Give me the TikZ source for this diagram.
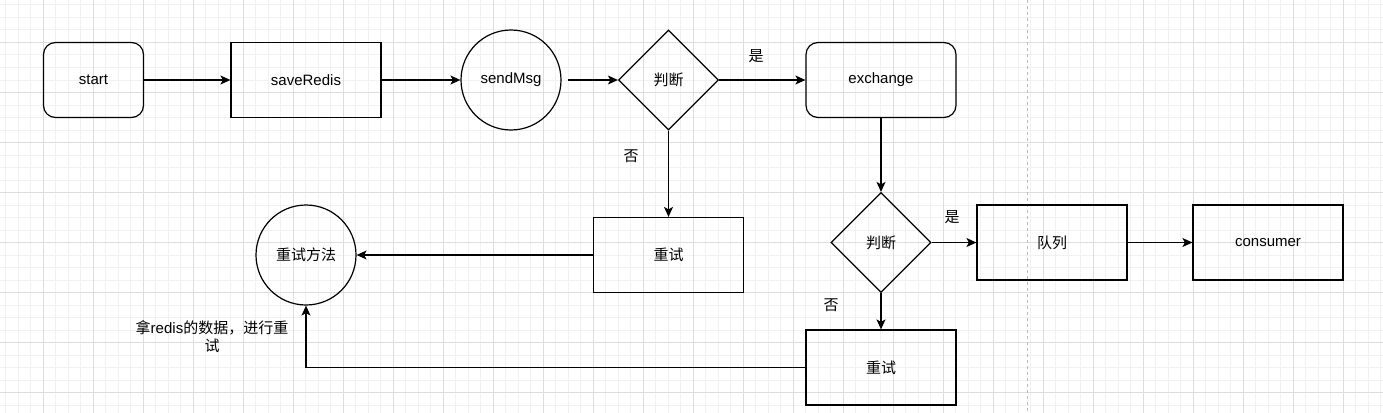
\documentclass[tikz,border=0pt]{standalone}
\usepackage{fontspec}
\setmainfont{Liberation Sans}
\newfontfamily\cjk{Noto Sans CJK SC}
\usetikzlibrary{shapes.geometric,arrows.meta}
\definecolor{gridmajor}{HTML}{DDDDDD}
\definecolor{gridminor}{HTML}{F1F1F1}
\definecolor{pageline}{HTML}{BBBBBB}
\tikzset{
  box/.style={draw, line width=1.2pt, minimum width=150pt, minimum height=75pt, inner sep=0pt},
  rbox/.style={box, rounded corners=12pt},
  circ/.style={draw, circle, line width=1.2pt, minimum size=100pt, inner sep=0pt},
  decision/.style={draw, diamond, aspect=1, line width=1.2pt, minimum width=100pt, minimum height=100pt, inner sep=0pt},
  arrow/.style={-{Stealth[length=10pt,width=9pt,inset=2.5pt]}, line width=1.2pt}
}
\begin{document}
\begin{tikzpicture}[x=1pt,y=-1pt,font=\fontsize{15pt}{18pt}\selectfont]
\useasboundingbox (0,0) rectangle (1383,412);
\fill[white] (0,0) rectangle (1383,412);
% background grid
\begin{scope}[shift={(43.3,42.5)}]
\draw[gridminor, line width=1pt, step=12.5pt] (-50,400) grid (1350,-50);
\draw[gridmajor, line width=1pt, step=50pt] (-50,400) grid (1350,-50);
\end{scope}
\draw[pageline, line width=1pt, dash pattern=on 3pt off 3pt] (1027.5,0) -- (1027.5,412);

% top row
\node[rbox, minimum width=100pt] (start) at (93.5,80) {start};
\node[box] (saveRedis) at (306,80) {saveRedis};
\node[circ] (sendMsg) at (511,80) {sendMsg};
\node[decision] (dec1) at (668.5,80) {\cjk 判断};
\node[rbox] (exchange) at (881,80) {exchange};

% retry side
\node[box] (retry1) at (668.5,255) {\cjk 重试};
\node[circ] (retryFn) at (306,255) {\cjk 重试方法};
\node[decision] (dec2) at (881,242.5) {\cjk 判断};
\node[box] (queue) at (1052,242.5) {\cjk 队列};
\node[box] (consumer) at (1268,242.5) {consumer};
\node[box] (retry2) at (881,367.5) {\cjk 重试};

% labels
\node (yes1) at (756,56) {\cjk 是};
\node (no1) at (631,156) {\cjk 否};
\node (yes2) at (952,217) {\cjk 是};
\node (no2) at (831,305) {\cjk 否};
\node[align=center] (note) at (212,337) {{\cjk 拿}redis{\cjk 的数据，进行重}\\{\cjk 试}};

\draw[arrow] (start) -- (saveRedis);
\draw[arrow] (saveRedis) -- (sendMsg);
\draw[arrow, shorten <=6pt] (sendMsg) -- (dec1);
\draw[arrow] (dec1) -- (exchange);
\draw[arrow] (dec1) -- (retry1);
\draw[arrow] (retry1) -- (retryFn);
\draw[arrow] (exchange) -- (dec2);
\draw[arrow] (dec2) -- (queue);
\draw[arrow] (queue) -- (consumer);
\draw[arrow] (dec2) -- (retry2);
\draw[arrow] (retry2) -| (retryFn);
\end{tikzpicture}
\end{document}
